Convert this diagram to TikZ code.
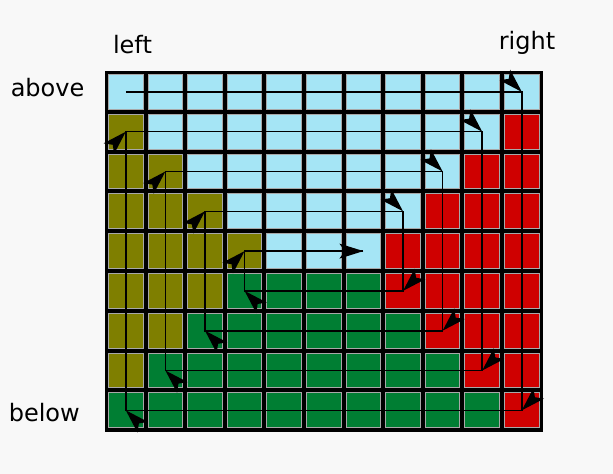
\documentclass[tikz,border=0pt]{standalone}
\usepackage{fontspec}
\setmainfont{DejaVu Sans}
\definecolor{bgc}{HTML}{F8F8F8}
\definecolor{cellB}{HTML}{A5E5F5}
\definecolor{cellO}{HTML}{7F7F00}
\definecolor{cellG}{HTML}{007E33}
\definecolor{cellR}{HTML}{CF0000}
\definecolor{cellborder}{HTML}{A8A8A8}
\tikzset{
  lbl/.style={inner sep=0pt, font=\fontsize{18}{22}\selectfont},
  spiral/.style={line width=1.2pt, line join=miter},
  cornertip/.pic={\fill[black] (0,0) -- (-24,7.5) -- (-18.5,0) -- (-24,-7.5) -- cycle;}
}
\begin{document}
\begin{tikzpicture}[x=0.75pt, y=-0.75pt]
\fill[bgc] (0,0) rectangle (613,474);
\useasboundingbox (0,0) rectangle (613,474);
% grid background (black lines)
\fill[black] (105,71) rectangle (543,432);
% cells
\foreach \rowlist [count=\r from 0] in {
  {B,B,B,B,B,B,B,B,B,B,B},
  {O,B,B,B,B,B,B,B,B,B,R},
  {O,O,B,B,B,B,B,B,B,R,R},
  {O,O,O,B,B,B,B,B,R,R,R},
  {O,O,O,O,B,B,B,R,R,R,R},
  {O,O,O,G,G,G,G,R,R,R,R},
  {O,O,G,G,G,G,G,G,R,R,R},
  {O,G,G,G,G,G,G,G,G,R,R},
  {G,G,G,G,G,G,G,G,G,G,R}} {
  \foreach \k [count=\c from 0] in \rowlist {
    \filldraw[fill=cell\k, draw=cellborder, line width=0.75pt]
      (106+39.6*\c+2.5, 72+39.8*\r+2.5) rectangle (106+39.6*\c+39.6-2.5, 72+39.8*\r+39.8-2.5);
  }
}
% cell centres
\foreach \i in {0,...,10} {
  \foreach \j in {0,...,8} {
    \coordinate (c-\i-\j) at (125.8+39.6*\i, 91.9+39.8*\j);
  }
}
% spiral
\draw[spiral] (c-0-0) -- (c-10-0) -- (c-10-8) -- (c-0-8) -- (c-0-1) -- (c-9-1) -- (c-9-7)
  -- (c-1-7) -- (c-1-2) -- (c-8-2) -- (c-8-6) -- (c-2-6) -- (c-2-3) -- (c-7-3)
  -- (c-7-5) -- (c-3-5) -- (c-3-4) -- (c-6-4);
% arrow tips at the corners
\foreach \p in {10-0,9-1,8-2,7-3} { \pic[rotate=-45] at (c-\p) {cornertip}; }
\foreach \p in {10-8,9-7,8-6,7-5} { \pic[rotate=-135] at (c-\p) {cornertip}; }
\foreach \p in {0-8,1-7,2-6,3-5} { \pic[rotate=135] at (c-\p) {cornertip}; }
\foreach \p in {0-1,1-2,2-3,3-4} { \pic[rotate=45] at (c-\p) {cornertip}; }
\pic at (c-6-4) {cornertip};
% labels
\node[lbl, anchor=base] (left) at (132.5,53.3) {left};
\node[lbl, anchor=base] (right) at (527,49.5) {right};
\node[lbl, anchor=base west] (above) at (10.5,96.7) {above};
\node[lbl, anchor=base west] (below) at (8.5,421.5) {below};
\end{tikzpicture}
\end{document}
